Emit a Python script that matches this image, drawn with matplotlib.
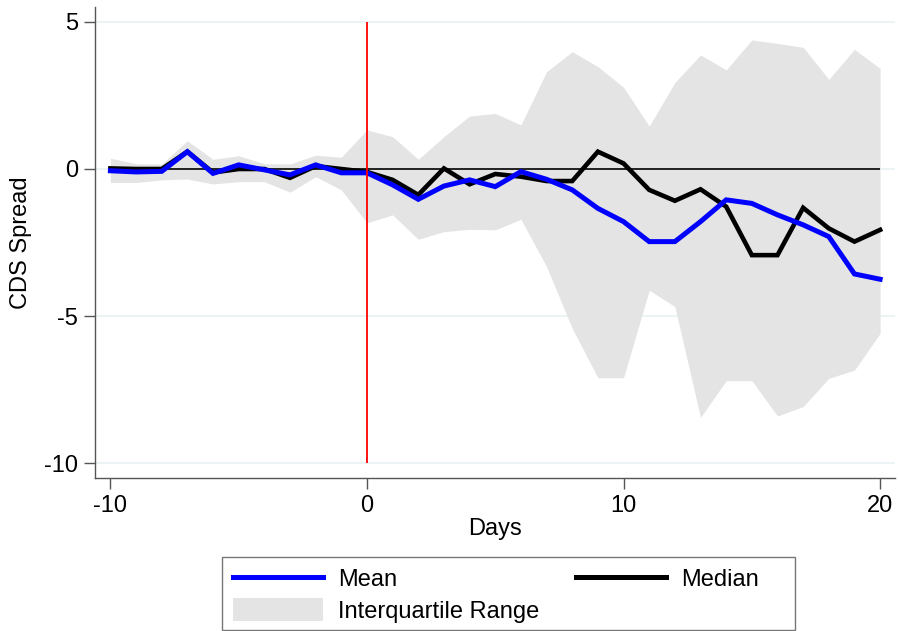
import numpy as np
import matplotlib
matplotlib.use('Agg')
import matplotlib.pyplot as plt
from matplotlib.patches import Rectangle, Patch
from matplotlib.lines import Line2D

plt.rcParams['font.family'] = ['Liberation Sans', 'DejaVu Sans']

# event window (days)
days = list(range(-10, 21))

# mean CDS spread change
mean = [-0.06, -0.10, -0.08, 0.59, -0.15, 0.14, -0.03, -0.20, 0.14, -0.13,
        -0.13, -0.54, -1.03, -0.58, -0.37, -0.60, -0.09, -0.35, -0.71, -1.34,
        -1.79, -2.47, -2.47, -1.79, -1.05, -1.17, -1.56, -1.90, -2.30, -3.57,
        -3.75]

# median CDS spread change
median = [0.02, 0.00, 0.00, 0.59, -0.12, 0.00, 0.00, -0.30, 0.10, 0.00,
          -0.10, -0.37, -0.88, 0.02, -0.52, -0.17, -0.26, -0.41, -0.41, 0.59,
          0.19, -0.71, -1.08, -0.69, -1.28, -2.93, -2.93, -1.32, -2.02, -2.47,
          -2.07]

# interquartile range bounds
q75 = [0.37, 0.18, 0.17, 0.96, 0.33, 0.45, 0.18, 0.17, 0.47, 0.40,
       1.33, 1.10, 0.33, 1.10, 1.80, 1.89, 1.50, 3.31, 3.99, 3.48,
       2.78, 1.46, 2.94, 3.88, 3.37, 4.39, 4.27, 4.14, 3.05, 4.07,
       3.42]
q25 = [-0.46, -0.46, -0.37, -0.34, -0.51, -0.43, -0.43, -0.79, -0.26, -0.71,
       -1.83, -1.56, -2.39, -2.13, -2.05, -2.07, -1.71, -3.32, -5.42, -7.10,
       -7.10, -4.12, -4.68, -8.45, -7.20, -7.20, -8.40, -8.08, -7.12, -6.84,
       -5.59]

W, H = 898, 631
fig = plt.figure(figsize=(W / 100, H / 100), dpi=100)
ax = fig.add_axes([95 / W, 1 - 478 / H, 800 / W, 471 / H])

grid_c = '#eaf2f3'
for yv in [-10, -5, 0, 5]:
    ax.axhline(yv, color=grid_c, lw=1.3, zorder=0)

ax.fill_between(days, q25, q75, color='#e4e4e4', lw=0, zorder=1)
ax.hlines(0, -10, 20, color='black', lw=1.2, zorder=2)
ax.plot(days, median, color='black', lw=3.3, zorder=3, solid_joinstyle='miter')
ax.plot(days, mean, color='#0000ff', lw=3.6, zorder=4, solid_joinstyle='miter')
ax.vlines(0, -10, 5, color='red', lw=1.3, zorder=5)

ax.set_xlim(-10.6, 20.58)
ax.set_ylim(-10.51, 5.51)
ax.set_xticks([-10, 0, 10, 20])
ax.set_yticks([-10, -5, 0, 5])
ax.set_yticklabels(['-10', '-5', '0', '5'])
ax.set_xticklabels(['-10', '0', '10', '20'])

for s in ['top', 'right']:
    ax.spines[s].set_visible(False)
for s in ['left', 'bottom']:
    ax.spines[s].set_color('#555555')
    ax.spines[s].set_linewidth(1.0)
ax.tick_params(axis='both', direction='out', length=8, width=1.0,
               color='#555555', labelsize=17, labelcolor='black', pad=4)

ax.set_xlabel('Days', fontsize=17, labelpad=1)
ax.set_ylabel('CDS Spread', fontsize=17, labelpad=9)

# legend
handles = [Line2D([], [], color='#0000ff', lw=3.6),
           Patch(facecolor='#e4e4e4', edgecolor='none'),
           Line2D([], [], color='black', lw=3.6)]
labels = ['Mean', 'Interquartile Range', 'Median']
fig.legend(handles, labels, ncol=2, frameon=False, fontsize=17,
           loc='upper left', bbox_to_anchor=(233 / W, 1 - 567 / H),
           borderpad=0, borderaxespad=0, handlelength=3.81,
           handleheight=1.1, handletextpad=0.64, columnspacing=1.57,
           labelspacing=0.3)
fig.patches.append(Rectangle((222 / W, 1 - 630 / H), 573 / W, 73 / H,
                             transform=fig.transFigure, fill=False,
                             edgecolor='#777777', lw=1.0))

fig.savefig('out.png', dpi=100)
